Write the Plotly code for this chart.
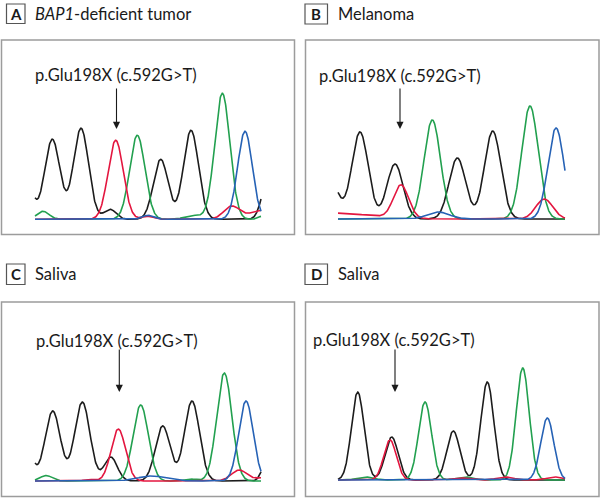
import numpy as np
import plotly.graph_objects as go

# ---------------- data: peaks ----------------
# each peak = (scan position, signal height, peak width sigma)
A_black = [(22, 70, 7.5), (52.3, 80, 7.6), (81, 91, 7.6), (110, 10, 6), (160.7, 60, 7.3), (191, 89, 7.5), (268, 40, 6)]
A_red = [(115.7, 79, 7.6), (148, 3, 6), (231.7, 13, 8), (262, 9, 12)]
A_green = [(43, 8, 6), (137.3, 84, 7.6), (193, 4, 8), (222.3, 126, 7.6), (262, 3, 4)]
A_blue = [(148, 4, 6), (245, 88, 7.3)]

B_black = [(330, 40, 8), (360, 87, 8.2), (395, 55, 8), (457.3, 61, 8.2), (492.7, 88, 8.2)]
B_red = [(330, 6, 40), (401, 33, 7.5), (544.3, 20, 8.5)]
B_green = [(432.3, 99, 8.2), (530, 113, 8.2)]
B_blue = [(438.3, 7, 11), (556, 91, 8)]

C_black = [(22, 60, 7.5), (52.7, 70, 7.6), (82.3, 79, 7.6), (110.7, 24, 6.5), (162.7, 55, 7.3), (192, 80, 7.5), (268, 25, 5)]
C_red = [(89, 1.5, 6), (118.3, 52, 7.2), (239.3, 11, 8), (262, 3, 6)]
C_green = [(46, 5.5, 6), (140.7, 76, 7.6), (190, 2, 6), (224.3, 108, 7.6)]
C_blue = [(151.7, 5, 14), (246, 80, 7.3)]

D_black = [(357.7, 88, 6.3), (391.7, 43, 6.5), (453.3, 49, 6.5), (487.3, 98, 6.5)]
D_red = [(390, 40, 6.3), (460, 2, 8), (505, 3, 8), (555, 3, 8)]
D_green = [(365, 3, 8), (425, 78, 6.5), (465, 3, 8), (522.7, 112, 6.5)]
D_blue = [(547.3, 62, 6.5)]

PANEL_LETTERS = ["A", "B", "C", "D"]
PANEL_TITLES = ["<i>BAP1</i>-deficient tumor", "Melanoma", "Saliva", "Saliva"]
MUTATION_LABEL = "p.Glu198X (c.592G>T)"
MUTATION_POS = [116.5, 400, 119.3, 395]   # scan position of the mutated base

# ---------------- layout geometry (pixels) ----------------
W, H = 600, 498
frames = [(1.5, 40, 294.5, 234.5), (305.5, 40, 599, 234.5),
          (1.5, 302, 294.5, 496.5), (305.5, 302, 599, 496.5)]
baselines = [219.3, 219.0, 481.0, 480.0]
xspan = [(35, 261), (338, 565), (35, 261), (338, 565)]
text_y = [75, 76, 341, 340]
text_x = [116.5, 400, 116.7, 394]
arrow_top = [87, 87, 348, 348]
arrow_tip = [129, 129, 392, 392]
label_boxes = [(6.5, 4, 25, 23.5), (305, 4, 327.5, 24), (6.5, 264, 25, 284.5), (305, 264, 327.5, 284.5)]

COLORS = {"black": "#1c1c1c", "red": "#e3163f", "green": "#22a04f", "blue": "#2662b5"}
traces = [
    {"black": A_black, "red": A_red, "green": A_green, "blue": A_blue},
    {"black": B_black, "red": B_red, "green": B_green, "blue": B_blue},
    {"black": C_black, "red": C_red, "green": C_green, "blue": C_blue},
    {"black": D_black, "red": D_red, "green": D_green, "blue": D_blue},
]


def signal(peaks, x):
    y = np.zeros_like(x)
    for c, h, s in peaks:
        y += h * np.exp(-((x - c) ** 2) / (2 * s * s))
    return y


fig = go.Figure()
layout = dict(width=W, height=H, margin=dict(l=0, r=0, t=0, b=0),
              paper_bgcolor="white", plot_bgcolor="rgba(0,0,0,0)", showlegend=False)
shapes, annotations = [], []

for i in range(4):
    x0, y0, x1, y1 = frames[i]
    ax = "" if i == 0 else str(i + 1)
    xa, ya = "xaxis" + ax, "yaxis" + ax
    base = baselines[i]
    layout[xa] = dict(domain=[x0 / W, x1 / W], range=[x0, x1], visible=False, fixedrange=True)
    layout[ya] = dict(domain=[1 - y1 / H, 1 - y0 / H], range=[-(y1 - base), base - y0],
                      visible=False, fixedrange=True)
    xs = np.linspace(xspan[i][0], xspan[i][1], 700)
    for col in ["black", "green", "red", "blue"]:
        fig.add_trace(go.Scatter(x=xs, y=signal(traces[i][col], xs), mode="lines",
                                 line=dict(color=COLORS[col], width=1.6),
                                 xaxis="x" + ax, yaxis="y" + ax, hoverinfo="skip"))
    # frame
    shapes.append(dict(type="rect", xref="paper", yref="paper", x0=x0 / W, x1=x1 / W,
                       y0=1 - y1 / H, y1=1 - y0 / H, line=dict(color="#9c9c9c", width=1.5)))
    # letter box
    bx0, by0, bx1, by1 = label_boxes[i]
    shapes.append(dict(type="rect", xref="paper", yref="paper", x0=bx0 / W, x1=bx1 / W,
                       y0=1 - by1 / H, y1=1 - by0 / H, line=dict(color="#555555", width=1.2)))
    annotations.append(dict(xref="paper", yref="paper", x=(bx0 + bx1) / 2 / W, y=1 - (by0 + by1) / 2 / H,
                            text="<b>" + PANEL_LETTERS[i] + "</b>", showarrow=False,
                            font=dict(family="Lato", size=15, color="#1a1a1a"),
                            xanchor="center", yanchor="middle"))
    annotations.append(dict(xref="paper", yref="paper", x=(bx1 + 8) / W, y=1 - (by0 + by1) / 2 / H,
                            text=PANEL_TITLES[i], showarrow=False,
                            font=dict(family="Lato", size=16.5, color="#1a1a1a"),
                            xanchor="left", yanchor="middle"))
    # mutation label and arrow
    annotations.append(dict(xref="paper", yref="paper", x=text_x[i] / W, y=1 - text_y[i] / H,
                            text=MUTATION_LABEL, showarrow=False,
                            font=dict(family="Lato", size=16.5, color="#1a1a1a"),
                            xanchor="center", yanchor="middle"))
    annotations.append(dict(xref="x" + ax, yref="paper", x=MUTATION_POS[i], y=1 - arrow_tip[i] / H,
                            ax=0, ay=-(arrow_tip[i] - arrow_top[i]), axref="pixel", ayref="pixel",
                            text="", showarrow=True, arrowhead=2, arrowsize=1.3, arrowwidth=1.1,
                            arrowcolor="#1a1a1a"))

layout["shapes"] = shapes
layout["annotations"] = annotations
fig.update_layout(**layout)
fig.write_html("out.html", config={"displayModeBar": False, "staticPlot": True},
               post_script="document.body.style.margin='0';")
